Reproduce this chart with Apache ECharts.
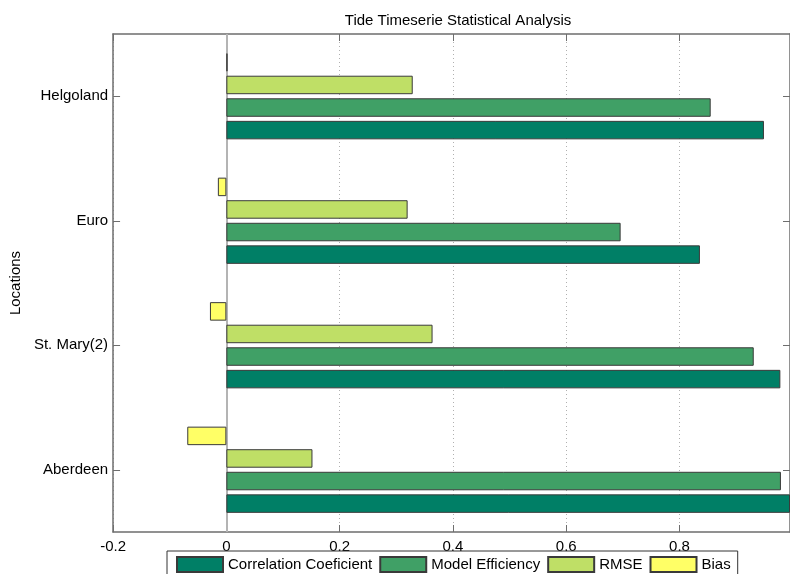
<!DOCTYPE html>
<html>
<head>
<meta charset="utf-8">
<script src="https://cdn.jsdelivr.net/npm/echarts@6/dist/echarts.min.js"></script>
<style>
  html, body { margin: 0; padding: 0; background: #fff; }
  #chart { width: 790px; height: 574px; }
</style>
</head>
<body>
<div id="chart"></div>
<script>
// Tide timeseries statistics per location
const locations = ['Aberdeen', 'St. Mary(2)', 'Euro', 'Helgoland'];
const correlation = [0.995, 0.978, 0.836, 0.949];
const modelEfficiency = [0.979, 0.931, 0.696, 0.855];
const rmse = [0.152, 0.364, 0.320, 0.329];
const bias = [-0.069, -0.029, -0.015, 0.002];

const seriesNames = ['Correlation Coeficient', 'Model Efficiency', 'RMSE', 'Bias'];
const seriesValues = [correlation, modelEfficiency, rmse, bias];
const seriesColors = ['#007f66', '#40a066', '#bfdf66', '#ffff66'];

const FONT = 'Liberation Sans, Arial, sans-serif';
const AXIS_COLOR = '#6e6e6e';
const X_MIN = -0.2, X_MAX = 0.995, X_STEP = 0.2;

const chart = echarts.init(document.getElementById('chart'));

// Bars inside a category are stacked top-down in series order, so the
// series list runs Bias -> Correlation to put Correlation at the bottom.
const series = seriesNames.map((name, i) => ({
  name: name,
  type: 'bar',
  data: seriesValues[i],
  barWidth: 18.5,
  barGap: '22%',
  itemStyle: { color: seriesColors[i], borderColor: '#3a3a3a', borderWidth: 1 },
  emphasis: { disabled: true },
  animation: false
})).reverse();

// Solid baseline at zero
series[0].markLine = {
  silent: true,
  symbol: 'none',
  label: { show: false },
  lineStyle: { color: '#b4b4b4', width: 2, type: 'solid' },
  z: 1,
  data: [{ xAxis: 0 }]
};

chart.setOption({
  backgroundColor: '#ffffff',
  animation: false,
  title: {
    text: 'Tide Timeserie Statistical Analysis',
    left: 453,
    textAlign: 'center',
    top: 8,
    textStyle: { fontFamily: FONT, fontSize: 15, fontWeight: 'normal', color: '#000' }
  },
  legend: {
    data: seriesNames,
    icon: 'rect',
    left: 167,
    top: 551,
    orient: 'horizontal',
    padding: [5, 7, 5, 9],
    itemWidth: 46,
    itemHeight: 15,
    itemGap: 7,
    borderColor: '#333',
    borderWidth: 1,
    backgroundColor: '#fff',
    textStyle: { fontFamily: FONT, fontSize: 15, color: '#000' }
  },
  grid: { left: 112, right: 0, top: 34, bottom: 42, containLabel: false },
  xAxis: [
    {
      type: 'value',
      position: 'bottom',
      min: X_MIN,
      max: X_MAX,
      interval: X_STEP,
      axisLine: { show: true, onZero: false, lineStyle: { color: AXIS_COLOR, width: 1.5 } },
      axisTick: { show: true, inside: true, length: 7, lineStyle: { color: AXIS_COLOR } },
      axisLabel: {
        showMaxLabel: false,
        margin: 7,
        fontFamily: FONT, fontSize: 15, color: '#000'
      },
      splitLine: { show: true, lineStyle: { color: '#b0b0b0', type: [1, 3], width: 1 } }
    },
    {
      type: 'value',
      position: 'top',
      min: X_MIN,
      max: X_MAX,
      interval: X_STEP,
      axisLine: { show: true, onZero: false, lineStyle: { color: AXIS_COLOR, width: 1.5 } },
      axisTick: { show: true, inside: true, length: 7, lineStyle: { color: AXIS_COLOR } },
      axisLabel: { show: false },
      splitLine: { show: false }
    }
  ],
  yAxis: [
    {
      type: 'category',
      data: locations,
      position: 'left',
      name: 'Locations',
      nameLocation: 'middle',
      nameGap: 86,
      nameTextStyle: { fontFamily: FONT, fontSize: 15, color: '#000' },
      axisLine: { show: true, onZero: false, lineStyle: { color: AXIS_COLOR, width: 1.5 } },
      axisTick: { show: true, inside: true, length: 7, alignWithLabel: true, lineStyle: { color: AXIS_COLOR } },
      axisLabel: { margin: 5, fontFamily: FONT, fontSize: 15, color: '#000' },
      splitLine: { show: false }
    },
    {
      type: 'category',
      data: locations,
      position: 'right',
      axisLine: { show: true, onZero: false, lineStyle: { color: AXIS_COLOR, width: 1.5 } },
      axisTick: { show: true, inside: true, length: 7, alignWithLabel: true, lineStyle: { color: AXIS_COLOR } },
      axisLabel: { show: false },
      splitLine: { show: false }
    }
  ],
  series: series
});
</script>
</body>
</html>
